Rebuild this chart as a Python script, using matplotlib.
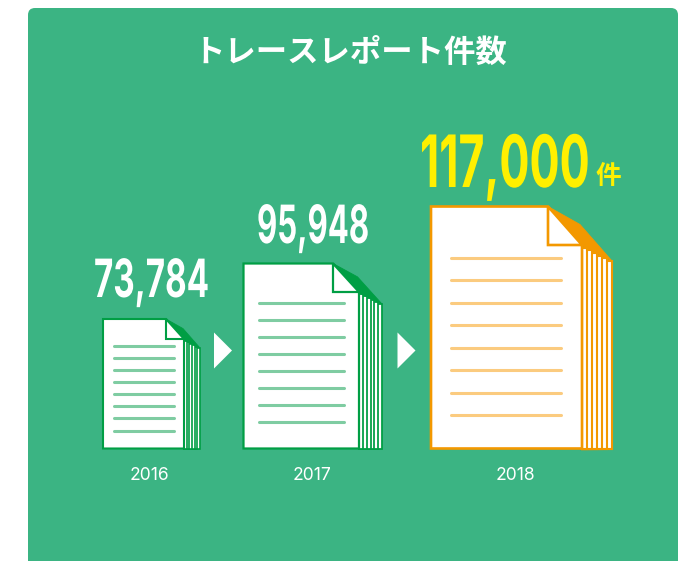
import matplotlib
matplotlib.use("Agg")
import matplotlib.pyplot as plt
from matplotlib.patches import Polygon, FancyBboxPatch
from matplotlib.patheffects import AbstractPathEffect
from matplotlib.transforms import Affine2D, Bbox

title = "トレースレポート件数"
years = ["2016", "2017", "2018"]
counts = [73784, 95948, 117000]
unit = "件"

GREEN_BG = "#3bb483"
GREEN = "#009e44"
GREEN_L = "#7fcca2"
ORANGE = "#f39800"
ORANGE_L = "#fbcb7f"
YELLOW = "#fff000"

# layout in reference pixels, one dict per document
layouts = [
    dict(left=103, top=319, bottom=448.5, front=184, right=200, foldx=166, foldy=339, cornery=348,
         lx0=114, lx1=174, ly0=346, ly1=430.5, sheets=6, lw=1.5, tx=151.5, base=297, fs=38, tw=115, yx=149),
    dict(left=243.5, top=263.5, bottom=448.5, front=359, right=382, foldx=333, foldy=292, cornery=304,
         lx0=259, lx1=344, ly0=303, ly1=422, sheets=6, lw=1.6, tx=313, base=243, fs=38, tw=112, yx=312),
    dict(left=431, top=206.5, bottom=448.5, front=582, right=612, foldx=548, foldy=245, cornery=261,
         lx0=451, lx1=561, ly0=258, ly1=415, sheets=6, lw=1.9, tx=505, base=187, fs=52, tw=170, yx=515),
]
arrows = [(214, 232, 350.5), (397.5, 415.5, 350.5)]

plt.rcParams["font.family"] = ["Noto Sans CJK JP", "DejaVu Sans"]
fig = plt.figure(figsize=(6.93, 5.61), dpi=100, facecolor="white")
ax = fig.add_axes([0, 0, 1, 1])
ax.set_xlim(0, 693)
ax.set_ylim(561, 0)
ax.axis("off")


class Condense(AbstractPathEffect):
    """Draw a text narrower about a vertical axis, keeping it a real text."""

    def __init__(self, cx, sx):
        super().__init__()
        self.cx, self.sx = cx, sx

    def draw_path(self, renderer, gc, tpath, affine, rgbFace=None):
        a = affine + Affine2D().translate(-self.cx, 0).scale(self.sx, 1).translate(self.cx, 0)
        renderer.draw_path(gc, tpath, a, rgbFace)


ax.add_patch(FancyBboxPatch((28, 8), 650, 560, boxstyle="round,pad=0,rounding_size=7",
                            fc=GREEN_BG, ec="none", zorder=0))

ax.text(350.5, 53, title, color="white", fontsize=22.6, fontweight="bold",
        ha="center", va="center")

renderer = fig.canvas.get_renderer()


def draw_doc(d, col, col_l, val, txtcol):
    L, T, B, F, R = d["left"], d["top"], d["bottom"], d["front"], d["right"]
    fx, fy, cy = d["foldx"], d["foldy"], d["cornery"]
    n, lw = d["sheets"], d["lw"]
    step = (R - F) / n
    for i in range(n, 0, -1):
        x = F + step * i
        y = fy + (cy - fy) * i / n
        ax.add_patch(Polygon([(F, y), (x, y), (x, B), (F, B)], closed=True,
                             fc="white", ec=col, lw=lw * 0.8, zorder=2, joinstyle="miter"))
    bulge = 0.33
    mx = fx + (R - fx) * 0.5
    ax.add_patch(Polygon([(fx, T), (mx, T + (cy - T) * bulge), (R, cy), (F, fy + 1)],
                         closed=True, fc=col, ec=col, lw=0.6, zorder=3))
    ax.add_patch(Polygon([(L, T), (fx, T), (F, fy), (F, B), (L, B)], closed=True,
                         fc="white", ec=col, lw=lw, zorder=4, joinstyle="miter"))
    ax.add_patch(Polygon([(fx, T), (F, fy), (fx, fy)], closed=True,
                         fc="white", ec=col, lw=lw, zorder=5, joinstyle="miter"))
    for i in range(8):
        y = d["ly0"] + (d["ly1"] - d["ly0"]) * i / 7
        ax.plot([d["lx0"], d["lx1"]], [y, y], color=col_l, lw=2.2,
                solid_capstyle="round", zorder=6)
    t = ax.text(d["tx"], d["base"], f"{val:,}", color=txtcol, fontsize=d["fs"],
                family="Inter", fontweight="bold", ha="center",
                va="baseline", zorder=7)
    box = t.get_window_extent(renderer)
    sx = d["tw"] / box.width
    t.set_path_effects([Condense(d["tx"], sx)])
    # report the extent that is really drawn
    drawn = Bbox.from_extents(d["tx"] - d["tw"] / 2, box.y0, d["tx"] + d["tw"] / 2, box.y1)
    t.get_window_extent = lambda renderer=None, dpi=None, b=drawn: b


for i, (d, v) in enumerate(zip(layouts, counts)):
    last = i == len(counts) - 1
    draw_doc(d, ORANGE if last else GREEN, ORANGE_L if last else GREEN_L, v,
             YELLOW if last else "white")
    ax.text(d["yx"], 475, years[i], color="white", fontsize=12.6,
            family="Inter", ha="center", va="center")

ax.text(608, 176, unit, color=YELLOW, fontsize=18.5, fontweight="bold", ha="center", va="center", zorder=8)

for x0, x1, yc in arrows:
    ax.add_patch(Polygon([(x0, yc - 18), (x1, yc), (x0, yc + 18)], closed=True,
                         fc="white", ec="none", zorder=3))

fig.savefig("out.png", dpi=100)
